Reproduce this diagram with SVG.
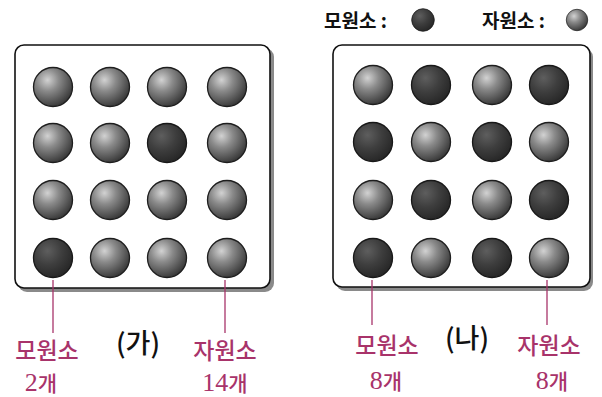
<svg xmlns="http://www.w3.org/2000/svg" width="602" height="397" viewBox="0 0 602 397">
<defs>
<radialGradient id="gl" cx="0.36" cy="0.32" r="0.72">
<stop offset="0" stop-color="#d2d2d2"/>
<stop offset="0.4" stop-color="#8a8a8a"/>
<stop offset="1" stop-color="#363636"/>
</radialGradient>
<radialGradient id="gd" cx="0.36" cy="0.32" r="0.72">
<stop offset="0" stop-color="#5e5e5e"/>
<stop offset="0.5" stop-color="#3e3e3e"/>
<stop offset="1" stop-color="#262626"/>
</radialGradient>
<circle id="L" r="19.5" fill="url(#gl)" stroke="#1e1e1e" stroke-width="1.3"/>
<circle id="D" r="19.5" fill="url(#gd)" stroke="#181818" stroke-width="1.3"/>
</defs>
<style>
.box{fill:#fff;stroke:#111;stroke-width:1.6}
.shadow{fill:#8a8a8a}
.lab{font-family:"Noto Sans CJK KR",sans-serif;font-size:23px;font-weight:500;fill:#a8336a;text-anchor:middle}
.cnt{font-family:"Noto Sans CJK KR",sans-serif;font-size:21px;font-weight:500;fill:#a8336a;text-anchor:middle}
.num{font-family:"Liberation Serif",serif;font-size:26px;font-weight:normal}
.ttl{font-family:"Noto Sans CJK KR",sans-serif;font-size:27px;font-weight:500;fill:#111;text-anchor:middle}
.leg{font-family:"Noto Sans CJK KR",sans-serif;font-size:19px;font-weight:bold;fill:#111}
.ln{stroke:#a8336a;stroke-width:1.3;fill:none}
</style>
<rect width="602" height="397" fill="#fff"/>
<g id="legend">
<text class="leg" x="324" y="28">모원소 :</text>
<use href="#D" transform="translate(423,20) scale(0.58)"/>
<text class="leg" x="482" y="28">자원소 :</text>
<use href="#L" transform="translate(577,20) scale(0.55)"/>
</g>
<g id="boxA">
<rect class="shadow" x="18" y="48" width="256" height="244" rx="9"/>
<rect class="box" x="15" y="45" width="255" height="243" rx="9"/>
<use href="#L" x="53" y="87"/><use href="#L" x="110" y="87"/><use href="#L" x="167" y="87"/><use href="#L" x="227" y="87"/>
<use href="#L" x="53" y="143"/><use href="#L" x="110" y="143"/><use href="#D" x="167" y="143"/><use href="#L" x="227" y="143"/>
<use href="#L" x="53" y="200"/><use href="#L" x="110" y="200"/><use href="#L" x="167" y="200"/><use href="#L" x="227" y="200"/>
<use href="#D" x="53" y="258"/><use href="#L" x="110" y="258"/><use href="#L" x="167" y="258"/><use href="#L" x="227" y="258"/>
</g>
<g id="boxB">
<rect class="shadow" x="336" y="48" width="257" height="243" rx="9"/>
<rect class="box" x="333" y="45" width="257" height="242" rx="9"/>
<use href="#L" x="373" y="85"/><use href="#D" x="431" y="85"/><use href="#L" x="492" y="85"/><use href="#D" x="549" y="85"/>
<use href="#D" x="373" y="142"/><use href="#L" x="431" y="142"/><use href="#D" x="492" y="142"/><use href="#L" x="549" y="142"/>
<use href="#L" x="373" y="200"/><use href="#D" x="431" y="200"/><use href="#L" x="492" y="200"/><use href="#D" x="549" y="200"/>
<use href="#D" x="373" y="258"/><use href="#L" x="431" y="258"/><use href="#D" x="492" y="258"/><use href="#L" x="549" y="258"/>
</g>
<g id="connectors">
<line class="ln" x1="53" y1="280" x2="53" y2="333"/>
<line class="ln" x1="225" y1="280" x2="225" y2="333"/>
<line class="ln" x1="372" y1="280" x2="372" y2="325"/>
<line class="ln" x1="547" y1="280" x2="547" y2="325"/>
</g>
<g id="labelsA">
<text class="lab" x="47" y="359">모원소</text>
<text class="cnt" x="41" y="391"><tspan class="num">2</tspan>개</text>
<text class="ttl" x="138" y="353">(가)</text>
<text class="lab" x="225" y="359">자원소</text>
<text class="cnt" x="225" y="391"><tspan class="num">14</tspan>개</text>
</g>
<g id="labelsB">
<text class="lab" x="387" y="354">모원소</text>
<text class="cnt" x="386" y="389"><tspan class="num">8</tspan>개</text>
<text class="ttl" x="467" y="348">(나)</text>
<text class="lab" x="549" y="354">자원소</text>
<text class="cnt" x="552" y="389"><tspan class="num">8</tspan>개</text>
</g>
</svg>
